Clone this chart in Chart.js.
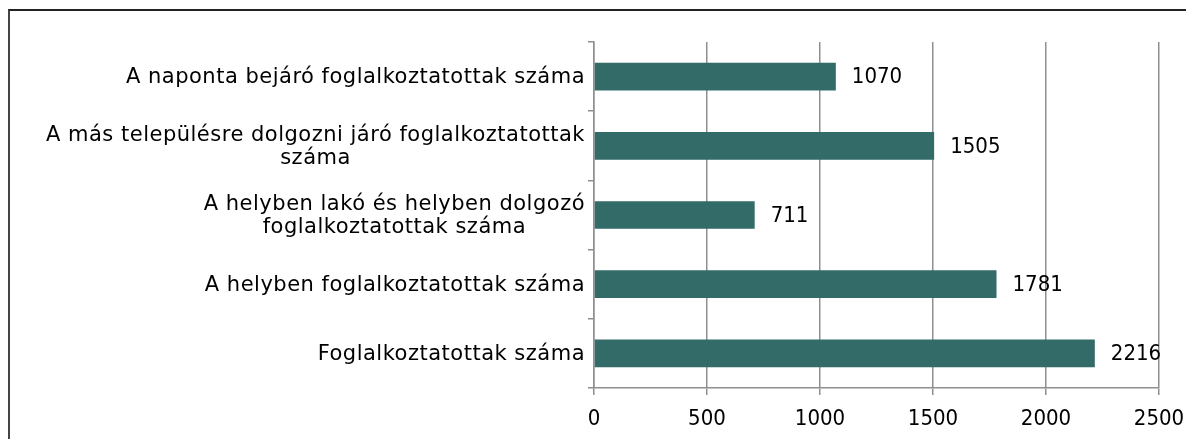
<!DOCTYPE html>
<html>
<head>
<meta charset="utf-8">
<script src="https://cdn.jsdelivr.net/npm/chart.js@4/dist/chart.umd.min.js"></script>
<style>
  html, body { margin: 0; padding: 0; background: #fff; }
  #wrap { position: relative; width: 1186px; height: 439px; overflow: hidden; }
  #frame { position: absolute; left: 8px; top: 9px; width: 1200px; height: 500px;
           border-top: 2px solid #222; border-left: 2px solid #444; }
  canvas { position: absolute; left: 0; top: 0; }
</style>
</head>
<body>
<div id="wrap">
  <div id="frame"></div>
  <canvas id="chart" width="1186" height="439"></canvas>
</div>
<script>
// adatok
const categories = [
  ['A naponta bejáró foglalkoztatottak száma'],
  ['A más településre dolgozni járó foglalkoztatottak', 'száma'],
  ['A helyben lakó és helyben dolgozó', 'foglalkoztatottak száma'],
  ['A helyben foglalkoztatottak száma'],
  ['Foglalkoztatottak száma']
];
const values = [1070, 1505, 711, 1781, 2216];
const xTicks = [0, 500, 1000, 1500, 2000, 2500];

const FONT = '"DejaVu Sans", sans-serif';
const NUM_FONT = '"DejaVu Sans Condensed", "DejaVu Sans", sans-serif';
const gridColor = '#8f8f8f';

// kategória feliratok: jobbra igazított blokk, soronként középre
const yLabelsPlugin = {
  id: 'yLabels',
  afterDraw(chart) {
    const { ctx } = chart;
    const y = chart.scales.y;
    const right = y.right - 9;
    ctx.save();
    ctx.font = '21px ' + FONT;
    ctx.letterSpacing = '0.5px';
    ctx.fillStyle = '#000';
    ctx.textAlign = 'center';
    ctx.textBaseline = 'middle';
    categories.forEach((lines, i) => {
      const w = Math.max(...lines.map(l => ctx.measureText(l).width));
      const cx = right - w / 2;
      const cy = y.getPixelForValue(i) + 1;
      lines.forEach((l, j) => {
        ctx.fillText(l, cx, cy + (j - (lines.length - 1) / 2) * 23);
      });
    });
    ctx.restore();
  }
};

// értékfeliratok a sávok végén
const valueLabelsPlugin = {
  id: 'valueLabels',
  afterDatasetsDraw(chart) {
    const { ctx } = chart;
    const meta = chart.getDatasetMeta(0);
    ctx.save();
    ctx.font = '22px ' + NUM_FONT;
    ctx.fillStyle = '#000';
    ctx.textAlign = 'left';
    ctx.textBaseline = 'middle';
    meta.data.forEach((bar, i) => {
      ctx.fillText(String(values[i]), bar.x + 16, bar.y + 1);
    });
    ctx.restore();
  }
};

new Chart(document.getElementById('chart'), {
  type: 'bar',
  data: {
    labels: categories,
    datasets: [{
      data: values,
      backgroundColor: '#336b69',
      barPercentage: 0.4,
      categoryPercentage: 1
    }]
  },
  options: {
    indexAxis: 'y',
    responsive: false,
    animation: false,
    layout: { padding: { top: 42, right: 27, left: 0, bottom: 0 } },
    plugins: { legend: { display: false }, tooltip: { enabled: false } },
    scales: {
      x: {
        min: 0,
        max: 2500,
        afterBuildTicks: (s) => { s.ticks = xTicks.map(v => ({ value: v })); },
        afterFit: (s) => { s.height = 51; s.paddingLeft = 0; s.paddingRight = 0; },
        grid: { color: gridColor, lineWidth: 1.5, tickLength: 7 },
        border: { color: gridColor, width: 1.5 },
        ticks: {
          color: '#000',
          font: { family: NUM_FONT, size: 22 },
          padding: 11,
          maxRotation: 0,
          callback: (v) => String(v)
        }
      },
      y: {
        afterFit: (s) => { s.width = 594; },
        grid: { drawOnChartArea: false, color: gridColor, lineWidth: 1.5, tickLength: 6 },
        border: { color: gridColor, width: 1.5 },
        ticks: { display: false }
      }
    }
  },
  plugins: [yLabelsPlugin, valueLabelsPlugin]
});
</script>
</body>
</html>
